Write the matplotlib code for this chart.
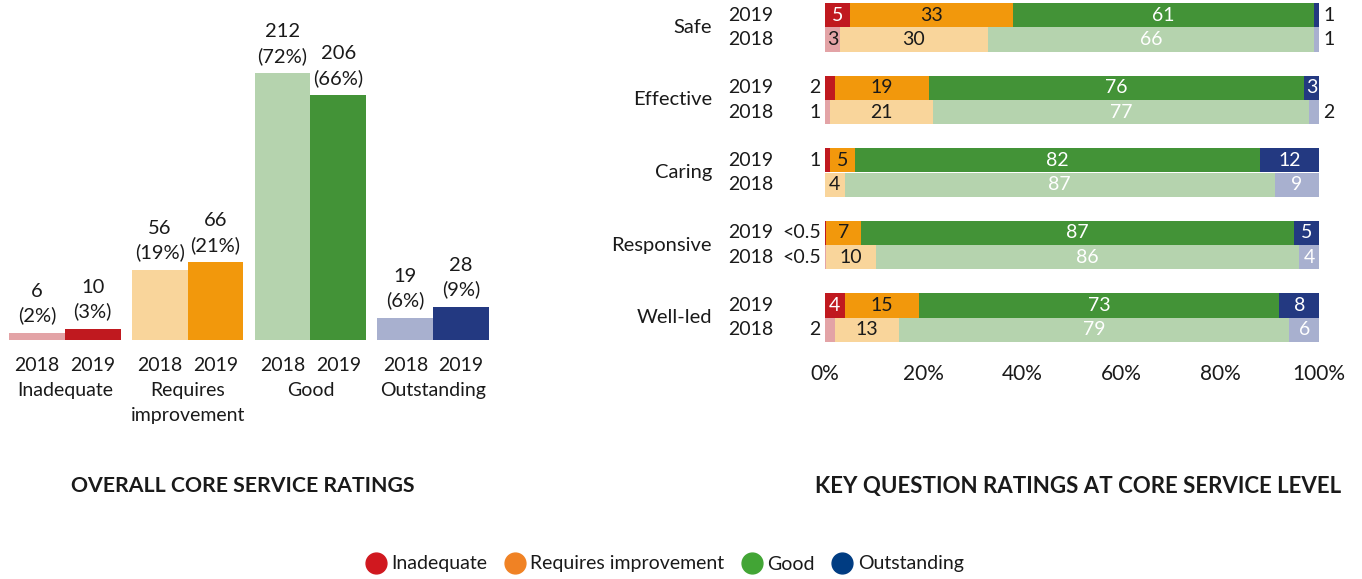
import matplotlib
matplotlib.use("Agg")
import matplotlib.pyplot as plt
import matplotlib.transforms as mtransforms
from matplotlib.lines import Line2D
import numpy as np

plt.rcParams['font.family'] = ['Lato', 'DejaVu Sans']
txt_col = "#1a1a1a"

# overall core service ratings
rating_cats = ["Inadequate", "Requires\nimprovement", "Good", "Outstanding"]
counts_2018 = [6, 56, 212, 19]
counts_2019 = [10, 66, 206, 28]
pct_2018 = [2, 19, 72, 6]
pct_2019 = [3, 21, 66, 9]

# key question ratings (% of core services)
key_questions = ["Safe", "Effective", "Caring", "Responsive", "Well-led"]
inad_2019 = [5, 2, 1, 0.3, 4]
req_2019 = [33, 19, 5, 7, 15]
good_2019 = [61, 76, 82, 87, 73]
outs_2019 = [1, 3, 12, 5, 8]
inad_2018 = [3, 1, 0, 0.3, 2]
req_2018 = [30, 21, 4, 10, 13]
good_2018 = [66, 77, 87, 86, 79]
outs_2018 = [1, 2, 9, 4, 6]

cols_2019 = ["#c0191f", "#f2980c", "#439337", "#233981"]
cols_2018 = ["#e3a3a6", "#f9d59b", "#b5d3ae", "#a8b0cf"]
txtc_2019 = ["white", txt_col, "white", "white"]
txtc_2018 = [txt_col, txt_col, "white", "white"]
legend_cols = ["#d0181f", "#f08224", "#42a535", "#003c82"]
legend_labels = ["Inadequate", "Requires improvement", "Good", "Outstanding"]

W, H = 1362, 579
fig = plt.figure(figsize=(W/100, H/100), dpi=100)

# ---- left: grouped bars ----
ax1 = fig.add_axes([9/W, 239/H, 480/W, 267/H])
gx = np.arange(len(rating_cats))*2.2
ax1.bar(gx-0.5, pct_2018, width=1, color=cols_2018)
ax1.bar(gx+0.5, pct_2019, width=1, color=cols_2019)
ax1.set_xlim(-1, gx[-1]+1)
ax1.set_ylim(0, 72)
for s in ax1.spines.values():
    s.set_visible(False)
ax1.set_yticks([])
ax1.set_xticks(np.concatenate([gx-0.5, gx+0.5]))
ax1.set_xticklabels(["2018"]*4 + ["2019"]*4)
ax1.tick_params(axis='x', length=0, pad=12, labelsize=14, labelcolor=txt_col)

for i in range(len(rating_cats)):
    for xo, c, p in [(-0.5, counts_2018[i], pct_2018[i]), (0.5, counts_2019[i], pct_2019[i])]:
        ax1.annotate(f"{c}\n({p}%)", (gx[i]+xo, p), xytext=(0, 6), textcoords='offset points',
                     ha='center', va='bottom', fontsize=14.5, color=txt_col, linespacing=1.45,
                     annotation_clip=False)
    ax1.annotate(rating_cats[i], (gx[i], 0), xytext=(0, -30), textcoords='offset points',
                 ha='center', va='top', fontsize=14, color=txt_col, linespacing=1.6,
                 annotation_clip=False)

# ---- right: stacked horizontal bars ----
ax2 = fig.add_axes([825/W, (H-342)/H, 494/W, 339/H])
pitch = 2.97
n = len(key_questions)
y19 = np.arange(n)*pitch
y18 = y19 + 1

rows19 = np.array([inad_2019, req_2019, good_2019, outs_2019], dtype=float).T
rows18 = np.array([inad_2018, req_2018, good_2018, outs_2018], dtype=float).T


def lab(v):
    if 0 < v < 0.5:
        return "<0.5"
    return f"{v:.0f}"


for rows, ys, cols, tcols in [(rows19, y19, cols_2019, txtc_2019), (rows18, y18, cols_2018, txtc_2018)]:
    for r in range(n):
        vals = rows[r]
        widths = vals/vals.sum()*100
        left = 0
        for k in range(4):
            w = widths[k]
            if w > 0:
                ax2.barh(ys[r], w, left=left, height=1, color=cols[k], linewidth=0)
            v = vals[k]
            if v >= 3:
                ax2.text(left+w/2, ys[r], lab(v), ha='center', va='center', fontsize=14,
                         color=tcols[k])
            elif v > 0 and k == 0:
                ax2.annotate(lab(v), (0, ys[r]), xytext=(-3, 0), textcoords='offset points',
                             ha='right', va='center', fontsize=14, color=txt_col,
                             annotation_clip=False)
            elif v > 0 and k == 3:
                ax2.annotate(lab(v), (100, ys[r]), xytext=(3, 0), textcoords='offset points',
                             ha='left', va='center', fontsize=14, color=txt_col,
                             annotation_clip=False)
            left += w

ax2.set_xlim(0, 100)
ax2.set_ylim(y18[-1]+0.5, -0.5)
for s in ax2.spines.values():
    s.set_visible(False)
ax2.set_yticks([])
ax2.set_xticks([0, 20, 40, 60, 80, 100])
ax2.set_xticklabels(["0%", "20%", "40%", "60%", "80%", "100%"])
ax2.tick_params(axis='x', length=0, pad=16, labelsize=15, labelcolor=txt_col)

tr = mtransforms.blended_transform_factory(fig.transFigure, ax2.transData)
for r in range(n):
    fig.text(712/W, (y19[r]+y18[r])/2, key_questions[r], transform=tr, ha='right', va='center',
             fontsize=14.5, color=txt_col)
    fig.text(751/W, y19[r], "2019", transform=tr, ha='center', va='center', fontsize=14, color=txt_col)
    fig.text(751/W, y18[r], "2018", transform=tr, ha='center', va='center', fontsize=14, color=txt_col)

# titles
fig.text(243/W, 1-486/H, "OVERALL CORE SERVICE RATINGS", ha='center', va='center',
         fontsize=15.3, fontweight='bold', color=txt_col)
fig.text(1078/W, 1-486/H, "KEY QUESTION RATINGS AT CORE SERVICE LEVEL", ha='center', va='center',
         fontsize=16, fontweight='bold', color=txt_col)

handles = [Line2D([], [], marker='o', ls='', markersize=15, color=c) for c in legend_cols]
fig.legend(handles, legend_labels, loc='center', bbox_to_anchor=(665/W, 1-564/H), ncol=4,
           frameon=False, fontsize=14, handletextpad=0.3, columnspacing=0.9,
           labelcolor=txt_col, handlelength=1.0)

fig.savefig("out.png", dpi=100)
